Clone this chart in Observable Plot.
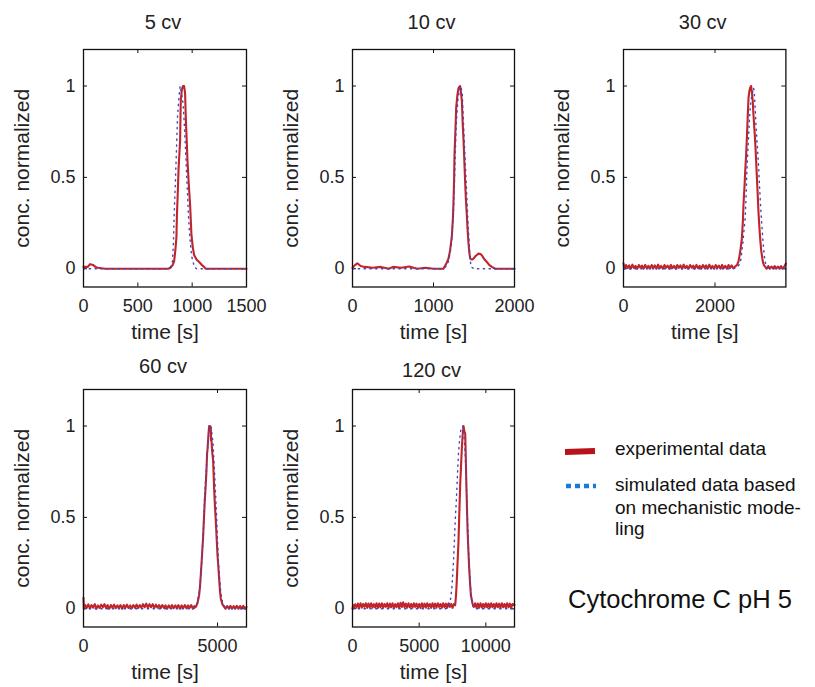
<!DOCTYPE html>
<html>
<head>
<meta charset="utf-8">
<script src="https://cdn.jsdelivr.net/npm/d3@7"></script>
<script src="https://cdn.jsdelivr.net/npm/@observablehq/plot@0.6"></script>
<style>
  html, body { margin: 0; padding: 0; background: #fff; }
  #root { position: relative; width: 815px; height: 687px; overflow: hidden; background: #fff; font-family: "Liberation Sans", Arial, sans-serif; }
  .panel { position: absolute; }
</style>
</head>
<body>
<div id="root"></div>
<script>
// ---------- data ----------
const titles = ["5 cv", "10 cv", "30 cv", "60 cv", "120 cv"];
const xMax = [1500, 2000, 3550, 6080, 12150];
const xTicks = [[0, 500, 1000, 1500], [0, 1000, 2000], [0, 2000], [0, 5000], [0, 5000, 10000]];
const yTicks = [0, 0.5, 1];
const yLabel = "conc. normalized";
const xLabel = "time [s]";
const legendLabels = ["experimental data", "simulated data based", "on mechanistic mode-", "ling"];
const noteText = "Cytochrome C pH 5";

// [time s, normalized concentration]
const exp5 = [[0,0.01],[40,0.01],[60,0.025],[90,0.02],[110,0.01],[130,0.005],[200,0],[400,0],[600,0],[780,0],[800,0.005],[820,0.02],[834,0.04],[845,0.1],[855,0.17],[860,0.3],[866,0.39],[875,0.55],[889,0.7],[895,0.92],[905,0.98],[915,1.0],[926,1.0],[935,0.96],[941,0.83],[950,0.7],[957,0.59],[970,0.45],[981,0.35],[993,0.19],[1005,0.12],[1018,0.075],[1040,0.05],[1064,0.037],[1090,0.02],[1110,0.01],[1125,0],[1300,0],[1500,0]];
const sim5 = [[0,0],[780,0],[800,0.01],[819,0.04],[828,0.15],[834,0.29],[846,0.48],[855,0.64],[865,0.83],[880,0.95],[889,1.0],[900,0.97],[917,0.9],[927,0.8],[935,0.7],[943,0.6],[950,0.5],[958,0.4],[965,0.3],[975,0.2],[985,0.13],[995,0.07],[1003,0.05],[1020,0.01],[1040,0],[1500,0]];

const exp10 = [[0,0.005],[30,0.02],[60,0.03],[100,0.015],[150,0.01],[250,0.005],[350,0.01],[450,0.0],[500,0.01],[600,0.005],[700,0.012],[800,0.0],[900,0.005],[1000,0.0],[1123,0.0],[1160,0.03],[1185,0.055],[1205,0.1],[1227,0.18],[1240,0.28],[1247,0.367],[1255,0.5],[1259,0.62],[1270,0.75],[1280,0.88],[1295,0.95],[1309,0.99],[1329,1.0],[1340,0.96],[1350,0.92],[1360,0.8],[1370,0.71],[1380,0.6],[1391,0.47],[1400,0.38],[1412,0.29],[1420,0.22],[1432,0.14],[1442,0.09],[1453,0.055],[1475,0.05],[1494,0.055],[1520,0.07],[1556,0.083],[1580,0.08],[1597,0.074],[1630,0.05],[1659,0.037],[1690,0.02],[1721,0.01],[1762,0.0],[2000,0.0]];
const sim10 = [[0,0],[1100,0],[1150,0.01],[1185,0.04],[1220,0.13],[1245,0.3],[1260,0.5],[1280,0.78],[1300,0.92],[1320,0.98],[1337,1.0],[1355,0.96],[1370,0.8],[1385,0.65],[1404,0.47],[1415,0.36],[1425,0.26],[1440,0.14],[1452,0.05],[1465,0.01],[1500,0],[2000,0]];

const exp30 = [[0,0.03],[20,0.0],[55,0.02],[90,0.005],[125,0.018],[160,0.0],[195,0.022],[230,0.004],[265,0.015],[300,0.0],[335,0.02],[370,0.006],[405,0.017],[440,0.0],[475,0.021],[510,0.003],[545,0.016],[580,0.0],[615,0.02],[650,0.005],[685,0.018],[720,0.0],[755,0.022],[790,0.004],[825,0.015],[860,0.0],[895,0.02],[930,0.006],[965,0.017],[1000,0.0],[1035,0.021],[1070,0.003],[1105,0.016],[1140,0.0],[1175,0.02],[1210,0.005],[1245,0.018],[1280,0.0],[1315,0.022],[1350,0.004],[1385,0.015],[1420,0.0],[1455,0.02],[1490,0.006],[1525,0.017],[1560,0.0],[1595,0.021],[1630,0.003],[1665,0.016],[1700,0.0],[1735,0.02],[1770,0.005],[1805,0.018],[1840,0.0],[1875,0.022],[1910,0.004],[1945,0.015],[1980,0.0],[2015,0.02],[2050,0.006],[2085,0.017],[2120,0.0],[2155,0.021],[2190,0.003],[2225,0.016],[2260,0.0],[2295,0.02],[2330,0.005],[2365,0.018],[2400,0.002],[2441,0.012],[2480,0.02],[2514,0.04],[2550,0.09],[2587,0.165],[2610,0.26],[2623,0.35],[2645,0.45],[2660,0.53],[2680,0.62],[2697,0.715],[2715,0.83],[2733,0.935],[2750,0.97],[2769,0.99],[2790,1.0],[2805,0.97],[2825,0.92],[2842,0.84],[2860,0.77],[2878,0.7],[2898,0.6],[2916,0.5],[2935,0.4],[2951,0.31],[2970,0.23],[2988,0.165],[3010,0.1],[3047,0.037],[3070,0.02],[3098,0.01],[3130,0.0],[3165,0.015],[3200,0.0],[3235,0.012],[3270,0.002],[3305,0.014],[3340,0.0],[3375,0.012],[3410,0.002],[3445,0.014],[3480,0.0],[3515,0.012],[3550,0.028]];
const sim30 = [[0,0],[2400,0],[2500,0.01],[2560,0.04],[2605,0.13],[2630,0.2],[2660,0.275],[2680,0.4],[2697,0.53],[2715,0.63],[2733,0.715],[2750,0.8],[2769,0.88],[2800,0.94],[2827,0.97],[2845,0.99],[2862,0.95],[2880,0.87],[2900,0.77],[2925,0.67],[2951,0.57],[2970,0.47],[2988,0.385],[3005,0.31],[3024,0.24],[3050,0.15],[3077,0.073],[3100,0.035],[3120,0.018],[3160,0.005],[3250,0],[3550,0]];

const exp60 = [[0,0.06],[15,0.0],[60,0.02],[120,0.005],[180,0.024],[240,0.002],[300,0.02],[360,0.006],[420,0.025],[480,0.0],[540,0.018],[600,0.004],[660,0.022],[720,0.008],[780,0.025],[840,0.003],[900,0.02],[960,0.0],[1020,0.02],[1080,0.006],[1140,0.022],[1200,0.003],[1260,0.018],[1320,0.005],[1380,0.02],[1440,0.0],[1500,0.02],[1560,0.006],[1620,0.022],[1680,0.004],[1740,0.018],[1800,0.002],[1860,0.02],[1920,0.005],[1980,0.022],[2040,0.004],[2100,0.02],[2160,0.006],[2220,0.025],[2280,0.008],[2340,0.028],[2400,0.006],[2460,0.025],[2520,0.008],[2580,0.025],[2640,0.005],[2700,0.022],[2760,0.006],[2820,0.02],[2880,0.003],[2940,0.02],[3000,0.005],[3060,0.018],[3120,0.0],[3180,0.018],[3240,0.004],[3300,0.02],[3360,0.003],[3420,0.018],[3480,0.005],[3540,0.02],[3600,0.0],[3660,0.018],[3720,0.004],[3780,0.02],[3840,0.002],[3900,0.018],[3960,0.005],[4020,0.02],[4080,0.0],[4140,0.015],[4189,0.01],[4250,0.03],[4313,0.074],[4345,0.12],[4375,0.185],[4420,0.29],[4461,0.39],[4495,0.5],[4524,0.59],[4560,0.68],[4588,0.76],[4610,0.85],[4625,0.87],[4660,0.95],[4686,1.0],[4720,1.0],[4748,0.99],[4760,0.92],[4774,0.92],[4800,0.86],[4835,0.81],[4855,0.73],[4872,0.66],[4900,0.57],[4935,0.48],[4965,0.39],[4998,0.295],[5030,0.23],[5058,0.166],[5090,0.1],[5121,0.055],[5180,0.025],[5246,0.01],[5300,0.0],[5360,0.015],[5420,0.002],[5480,0.016],[5540,0.0],[5600,0.014],[5660,0.002],[5720,0.016],[5780,0.0],[5840,0.015],[5900,0.002],[5960,0.016],[6020,0.0],[6080,0.01]];
const sim60 = [[0,0],[4100,0],[4200,0.01],[4251,0.037],[4300,0.08],[4338,0.11],[4375,0.18],[4412,0.26],[4445,0.35],[4473,0.44],[4500,0.54],[4524,0.63],[4560,0.72],[4600,0.81],[4640,0.9],[4673,0.96],[4710,0.99],[4748,1.0],[4790,0.96],[4835,0.9],[4865,0.81],[4897,0.72],[4935,0.6],[4972,0.48],[5000,0.37],[5033,0.26],[5075,0.17],[5121,0.09],[5170,0.045],[5221,0.02],[5300,0.005],[5400,0],[6080,0]];

const exp120 = [[0,0.0],[50,0.02],[100,0.004],[200,0.024],[300,0.006],[400,0.028],[500,0.008],[600,0.03],[700,0.006],[800,0.026],[900,0.01],[1000,0.03],[1100,0.005],[1200,0.028],[1300,0.008],[1400,0.03],[1500,0.006],[1600,0.025],[1700,0.008],[1800,0.03],[1900,0.004],[2000,0.028],[2100,0.008],[2200,0.03],[2300,0.006],[2400,0.026],[2500,0.01],[2600,0.03],[2700,0.005],[2800,0.028],[2900,0.008],[3000,0.03],[3100,0.006],[3200,0.025],[3300,0.008],[3400,0.03],[3500,0.004],[3600,0.032],[3700,0.01],[3800,0.035],[3900,0.008],[4000,0.028],[4100,0.006],[4200,0.03],[4300,0.008],[4400,0.026],[4500,0.006],[4600,0.03],[4700,0.01],[4800,0.028],[4900,0.005],[5000,0.026],[5100,0.004],[5200,0.03],[5300,0.008],[5400,0.028],[5500,0.006],[5600,0.03],[5700,0.01],[5800,0.026],[5900,0.005],[6000,0.03],[6100,0.008],[6200,0.028],[6300,0.006],[6400,0.03],[6500,0.01],[6600,0.026],[6700,0.005],[6800,0.03],[6900,0.008],[7000,0.028],[7100,0.006],[7200,0.03],[7300,0.01],[7400,0.026],[7500,0.005],[7600,0.025],[7703,0.02],[7770,0.08],[7830,0.166],[7890,0.27],[7950,0.37],[8010,0.52],[8078,0.68],[8140,0.78],[8205,0.885],[8260,0.95],[8325,1.0],[8390,0.97],[8453,0.96],[8490,0.85],[8528,0.72],[8575,0.58],[8625,0.44],[8690,0.32],[8753,0.22],[8815,0.14],[8880,0.074],[9000,0.028],[9100,0.01],[9200,0.03],[9300,0.006],[9400,0.028],[9500,0.005],[9600,0.03],[9700,0.008],[9800,0.026],[9900,0.006],[10000,0.03],[10100,0.008],[10200,0.028],[10300,0.005],[10400,0.03],[10500,0.008],[10600,0.026],[10700,0.006],[10800,0.03],[10900,0.008],[11000,0.028],[11100,0.005],[11200,0.03],[11300,0.008],[11400,0.026],[11500,0.006],[11600,0.03],[11700,0.008],[11800,0.028],[11900,0.005],[12000,0.026],[12150,0.02]];
const sim120 = [[0,0],[7000,0],[7200,0.01],[7328,0.037],[7450,0.11],[7578,0.26],[7640,0.37],[7703,0.48],[7770,0.57],[7830,0.66],[7890,0.76],[7950,0.85],[8040,0.93],[8128,0.98],[8275,1.0],[8360,0.95],[8453,0.85],[8515,0.72],[8578,0.59],[8640,0.46],[8700,0.33],[8765,0.23],[8828,0.15],[8890,0.08],[8950,0.037],[9050,0.01],[9200,0],[12150,0]];

const expSeries = [exp5, exp10, exp30, exp60, exp120];
const simSeries = [sim5, sim10, sim30, sim60, sim120];

// ---------- layout ----------
const RED = "#bf252b";
const BLUE_DOT = "#4646b8";
const INK = "#222";
const FONT = "'Liberation Sans', Arial, Helvetica, sans-serif";
const frameLefts = [82.7, 352.3, 623.3, 82.7, 352.3];
const frameTops = [49, 49, 49, 389.3, 389.3];
const frameWidths = [163, 162, 162.4, 163, 162];
const FH = 237.5;
const ML = 84, MR = 22, MT = 50, MB = 62;
const titleDy = [-27, -27, -27, -23, -19];

const root = document.getElementById("root");

for (let i = 0; i < 5; i++) {
  const fw = frameWidths[i];
  const chart = Plot.plot({
    width: ML + fw + MR,
    height: MT + FH + MB,
    marginLeft: ML, marginRight: MR, marginTop: MT, marginBottom: MB,
    x: {domain: [0, xMax[i]]},
    y: {domain: [-0.1, 1.2]},
    style: {fontFamily: FONT, fontSize: "18px", color: INK, background: "transparent", overflow: "visible"},
    marks: [
      Plot.axisX(xTicks[i], {tickSize: 0, tickPadding: 12, fontSize: 18, tickFormat: d => String(d), label: null}),
      Plot.axisY(yTicks, {tickSize: 0, tickPadding: 8, fontSize: 18, tickFormat: d => String(d), label: null}),
      Plot.tickX(xTicks[i], {x: d => d, insetTop: FH - 4, stroke: "#111"}),
      Plot.tickX(xTicks[i], {x: d => d, insetBottom: FH - 4, stroke: "#111"}),
      Plot.tickY(yTicks, {y: d => d, insetRight: fw - 4, stroke: "#111"}),
      Plot.tickY(yTicks, {y: d => d, insetLeft: fw - 4, stroke: "#111"}),
      Plot.line(expSeries[i], {x: d => d[0], y: d => d[1], stroke: RED, strokeWidth: 2.1, curve: "linear"}),
      Plot.line(simSeries[i], {x: d => d[0], y: d => d[1], stroke: BLUE_DOT, strokeWidth: 1.4, strokeDasharray: "1.3 4.5"}),
      Plot.frame({stroke: "#111", strokeWidth: 1.3}),
      Plot.text([titles[i]], {text: d => d, frameAnchor: "top", lineAnchor: "middle", textAnchor: "middle",
        dy: titleDy[i], dx: -2, fontSize: 20, fontWeight: "normal", fill: INK}),
      Plot.text([xLabel], {text: d => d, frameAnchor: "bottom", lineAnchor: "middle", textAnchor: "middle",
        dy: 45, fontSize: 21, fontWeight: "normal", fill: INK}),
      Plot.text([yLabel], {text: d => d, frameAnchor: "left", lineAnchor: "middle", textAnchor: "middle",
        rotate: -90, dx: -61, fontSize: 21, fontWeight: "normal", fill: INK})
    ]
  });
  chart.classList.add("panel");
  chart.style.left = (frameLefts[i] - ML) + "px";
  chart.style.top = (frameTops[i] - MT) + "px";
  root.appendChild(chart);
}

// ---------- legend ----------
const NS = "http://www.w3.org/2000/svg";
const leg = document.createElementNS(NS, "svg");
leg.setAttribute("width", 275);
leg.setAttribute("height", 200);
leg.style.position = "absolute";
leg.style.left = "540px";
leg.style.top = "420px";
function el(tag, attrs, text) {
  const e = document.createElementNS(NS, tag);
  for (const k in attrs) e.setAttribute(k, attrs[k]);
  if (text != null) e.textContent = text;
  leg.appendChild(e);
  return e;
}
el("line", {x1: 25, x2: 55, y1: 32, y2: 31, stroke: "#b8131b", "stroke-width": 6});
el("line", {x1: 26, x2: 56, y1: 66, y2: 66, stroke: "#1c79d4", "stroke-width": 4.5, "stroke-dasharray": "5 4"});
const ty = [35, 70.7, 94, 115];
legendLabels.forEach((t, k) => el("text", {x: 75, y: ty[k], "font-family": FONT, "font-size": 19, fill: "#111"}, t));
el("text", {x: 28, y: 188, "font-family": FONT, "font-size": 25.5, fill: "#111"}, noteText);
root.appendChild(leg);
</script>
</body>
</html>
